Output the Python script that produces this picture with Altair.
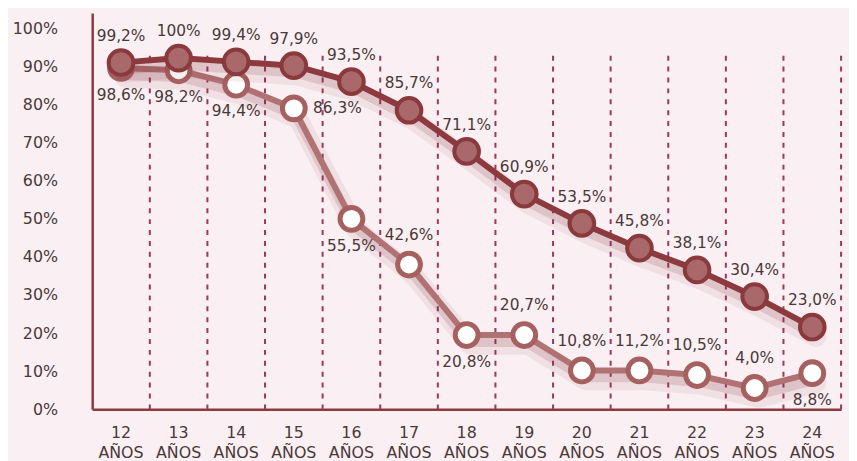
import altair as alt
import pandas as pd

# ---- data ----
ages = ["12", "13", "14", "15", "16", "17", "18", "19", "20", "21", "22", "23", "24"]

# plotted heights (in % of the y axis, as drawn in the picture)
dark_values = [91.0, 92.2, 91.2, 90.2, 86.0, 78.5, 67.7, 56.5, 48.8, 42.3, 36.6, 29.6, 21.6]
dark_labels = ["99,2%", "100%", "99,4%", "97,9%", "93,5%", "85,7%", "71,1%",
               "60,9%", "53,5%", "45,8%", "38,1%", "30,4%", "23,0%"]

light_values = [89.6, 89.0, 85.2, 79.0, 50.0, 38.0, 19.5, 19.5, 10.2, 10.2, 9.0, 5.6, 9.5]
light_labels = ["98,6%", "98,2%", "94,4%", "86,3%", "55,5%", "42,6%", "20,8%",
                "20,7%", "10,8%", "11,2%", "10,5%", "4,0%", "8,8%"]
light_label_side = ["below", "below", "below", "right", "below", "above", "below",
                    "above", "above", "above", "above", "above", "below"]

y_ticks = [0, 10, 20, 30, 40, 50, 60, 70, 80, 90, 100]

dark_df = pd.DataFrame({"age": ages, "v": dark_values, "label": dark_labels})
light_df = pd.DataFrame({"age": ages, "v": light_values, "label": light_labels,
                         "side": light_label_side})
grid_df = pd.DataFrame({"age": ages})

FONT = "DejaVu Sans"
AXIS_COL = "#8b3a3d"
TEXT_COL = "#4a3838"

x_axis = alt.Axis(title=None, labelAngle=0, labelExpr="[datum.label, 'AÑOS']",
                  labelFont=FONT, labelFontSize=16, labelColor=TEXT_COL,
                  labelPadding=15, labelLineHeight=21, ticks=False,
                  domainColor=AXIS_COL, domainWidth=2.5, grid=False)
y_axis = alt.Axis(title=None, values=y_ticks, labelExpr="datum.value + '%'",
                  labelFont=FONT, labelFontSize=16, labelColor=TEXT_COL,
                  labelPadding=35, ticks=False, domainColor=AXIS_COL,
                  domainWidth=2.5, grid=False)
x_scale = alt.Scale(domain=ages, paddingInner=0, paddingOuter=0)
y_scale = alt.Scale(domain=[0, 104], nice=False)


def X(**kw):
    return alt.X("age:N", scale=x_scale, axis=x_axis, sort=ages, **kw)


def Y():
    return alt.Y("v:Q", scale=y_scale, axis=y_axis)


grid = alt.Chart(grid_df).mark_rule(color="#9e3560", strokeWidth=2,
                                     strokeDash=[5, 6]).encode(
    x=X(bandPosition=1),
    y=alt.Y(datum=0, scale=y_scale, axis=y_axis),
    y2=alt.Y2(datum=93),
)


def shadow(df):
    return [
        alt.Chart(df).mark_line(color="#7a2630", strokeWidth=20, opacity=0.08,
                                yOffset=10, xOffset=4, strokeCap="round",
                                strokeJoin="round").encode(x=X(), y=Y()),
        alt.Chart(df).mark_line(color="#7a2630", strokeWidth=10, opacity=0.15,
                                yOffset=7, xOffset=2, strokeCap="round",
                                strokeJoin="round").encode(x=X(), y=Y()),
    ]


light_line = alt.Chart(light_df).mark_line(color="#b07272", strokeWidth=6,
                                           strokeJoin="round").encode(x=X(), y=Y())
light_pts = alt.Chart(light_df).mark_point(shape="circle", fill="white", stroke="#a5605f",
                                           strokeWidth=5, size=530, opacity=1,
                                           fillOpacity=1).encode(x=X(), y=Y())
dark_line = alt.Chart(dark_df).mark_line(color="#8c3a3e", strokeWidth=6,
                                         strokeJoin="round").encode(x=X(), y=Y())
dark_pts = alt.Chart(dark_df).mark_point(shape="circle", fill="#a9686a", stroke="#8a393c",
                                         strokeWidth=4, size=620, opacity=1,
                                         fillOpacity=1).encode(x=X(), y=Y())

txt = dict(font=FONT, fontSize=15.5, color=TEXT_COL, baseline="middle", align="center")
dark_txt = alt.Chart(dark_df).mark_text(dy=-27, **txt).encode(x=X(), y=Y(), text="label:N")
light_below = alt.Chart(light_df).transform_filter("datum.side == 'below'").mark_text(
    dy=27, **txt).encode(x=X(), y=Y(), text="label:N")
light_above = alt.Chart(light_df).transform_filter("datum.side == 'above'").mark_text(
    dy=-30, **txt).encode(x=X(), y=Y(), text="label:N")
light_right = alt.Chart(light_df).transform_filter("datum.side == 'right'").mark_text(
    dx=44, **txt).encode(x=X(), y=Y(), text="label:N")

chart = alt.layer(
    grid,
    *shadow(light_df), light_line, light_pts,
    *shadow(dark_df), dark_line, dark_pts,
    dark_txt, light_below, light_above, light_right,
).properties(
    width=756, height=400,
    autosize=alt.AutoSizeParams(type="none"),
    padding={"left": 85, "top": 3, "right": 8, "bottom": 50},
    background="#faf0f3",
).configure_view(stroke=None)

chart.save("out.html", embed_options={"renderer": "svg", "actions": False})
